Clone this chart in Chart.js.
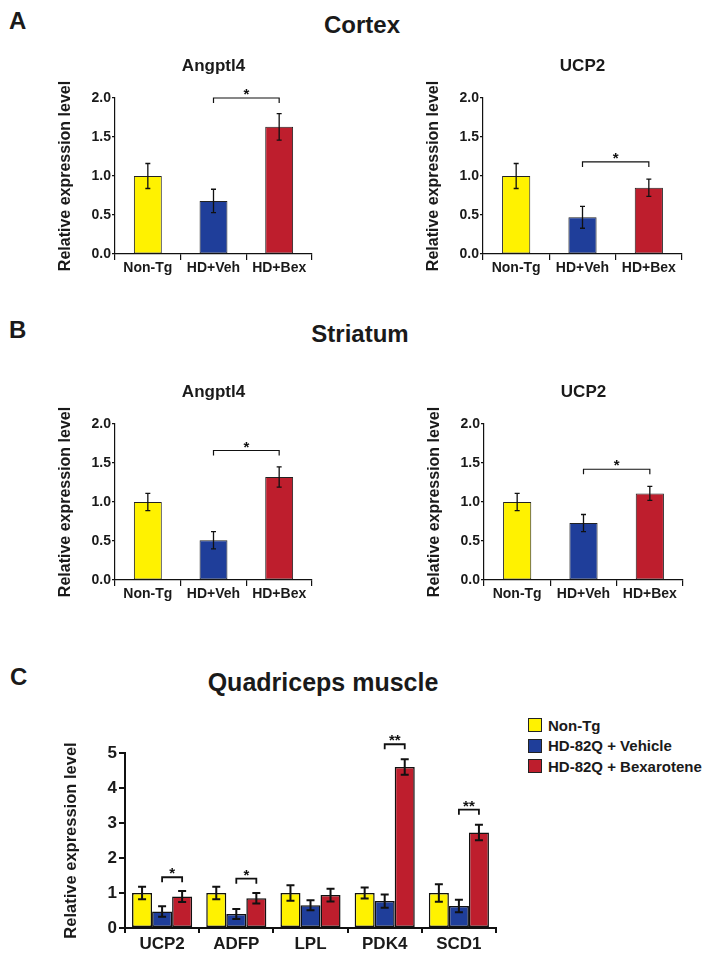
<!DOCTYPE html>
<html>
<head>
<meta charset="utf-8">
<script src="https://cdn.jsdelivr.net/npm/chart.js@4.4.1/dist/chart.umd.min.js"></script>
<style>
  body { margin: 0; background: #fff; width: 714px; height: 959px; position: relative; overflow: hidden;
         font-family: 'Liberation Sans', Arial, sans-serif; color: #1a1a1a; }
  .panel, .heading { position: absolute; font-weight: bold; line-height: 1; white-space: nowrap; }
  .panel { font-size: 24px; }
  .heading { font-size: 24px; transform: translateX(-50%); }
  canvas { position: absolute; }
  #legendC { position: absolute; left: 528px; top: 715px; margin: 0; padding: 0; list-style: none;
             font-weight: bold; font-size: 15px; }
  #legendC li { display: flex; align-items: center; height: 20.5px; white-space: nowrap; }
  #legendC .box { width: 12px; height: 12px; border: 1px solid #222; margin-right: 6px; }
</style>
</head>
<body>
<div class="panel" style="left:9px; top:9px">A</div>
<div class="heading" style="left:362px; top:13px">Cortex</div>
<div class="panel" style="left:9px; top:318px">B</div>
<div class="heading" style="left:360px; top:322px">Striatum</div>
<div class="panel" style="left:10px; top:665px">C</div>
<div class="heading" style="left:323px; top:670px; font-size:25px">Quadriceps muscle</div>

<canvas id="cortexAngptl4"></canvas>
<canvas id="cortexUCP2"></canvas>
<canvas id="striatumAngptl4"></canvas>
<canvas id="striatumUCP2"></canvas>
<canvas id="muscle"></canvas>
<ul id="legendC"></ul>

<script>
// ---- datos de los paneles A y B ----
const groups = ['Non-Tg', 'HD+Veh', 'HD+Bex'];
const groupColors = ['#FFF200', '#1F3E9A', '#BE1E2D'];
const smallTicks = [0, 0.5, 1.0, 1.5, 2.0];

const cortexAngptl4 = [1.0, 0.68, 1.63];
const cortexAngptl4Err = [0.16, 0.15, 0.17];
const cortexUCP2 = [1.0, 0.47, 0.85];
const cortexUCP2Err = [0.16, 0.14, 0.11];
const striatumAngptl4 = [1.0, 0.51, 1.32];
const striatumAngptl4Err = [0.11, 0.11, 0.13];
const striatumUCP2 = [1.0, 0.73, 1.11];
const striatumUCP2Err = [0.11, 0.11, 0.09];

// brackets: [from bar, to bar, level, mark]
const cortexAngptl4Sig = [[1, 2, 2.0, '*']];
const cortexUCP2Sig = [[1, 2, 1.18, '*']];
const striatumAngptl4Sig = [[1, 2, 1.66, '*']];
const striatumUCP2Sig = [[1, 2, 1.42, '*']];

// ---- datos del panel C ----
const genes = ['UCP2', 'ADFP', 'LPL', 'PDK4', 'SCD1'];
const seriesNames = ['Non-Tg', 'HD-82Q + Vehicle', 'HD-82Q + Bexarotene'];
const muscleNonTg = [1.0, 1.0, 1.0, 1.0, 1.0];
const muscleNonTgErr = [0.18, 0.18, 0.22, 0.16, 0.25];
const muscleVehicle = [0.47, 0.40, 0.65, 0.77, 0.63];
const muscleVehicleErr = [0.15, 0.14, 0.14, 0.19, 0.18];
const muscleBexarotene = [0.90, 0.85, 0.94, 4.60, 2.73];
const muscleBexaroteneErr = [0.16, 0.15, 0.18, 0.22, 0.22];
const muscleTicks = [0, 1, 2, 3, 4, 5];
// brackets Vehicle -> Bexarotene: [gene, level, mark]
const muscleSig = [[0, 1.45, '*'], [1, 1.41, '*'], [3, 5.25, '**'], [4, 3.38, '**']];

Chart.defaults.font.family = "'Liberation Sans', Arial, sans-serif";
Chart.defaults.color = '#1a1a1a';

// barras de error (media +/- error)
const errorBarPlugin = {
    id: 'errorBars',
    afterDatasetsDraw(chart, args, opts) {
        const ctx = chart.ctx;
        const yScale = chart.scales.y;
        ctx.save();
        ctx.strokeStyle = '#111';
        ctx.lineWidth = opts.lineWidth;
        chart.data.datasets.forEach((ds, i) => {
            chart.getDatasetMeta(i).data.forEach((bar, j) => {
                const top = yScale.getPixelForValue(ds.data[j] + ds.errors[j]);
                const bot = yScale.getPixelForValue(ds.data[j] - ds.errors[j]);
                ctx.beginPath();
                ctx.moveTo(bar.x, top); ctx.lineTo(bar.x, bot);
                ctx.moveTo(bar.x - opts.cap, top); ctx.lineTo(bar.x + opts.cap, top);
                ctx.moveTo(bar.x - opts.cap, bot); ctx.lineTo(bar.x + opts.cap, bot);
                ctx.stroke();
            });
        });
        ctx.restore();
    }
};

// corchetes de significancia con asteriscos
const bracketPlugin = {
    id: 'sigBrackets',
    afterDatasetsDraw(chart, args, opts) {
        const ctx = chart.ctx;
        const yScale = chart.scales.y;
        ctx.save();
        ctx.strokeStyle = '#111';
        ctx.fillStyle = '#111';
        ctx.lineWidth = opts.lineWidth;
        ctx.font = 'bold ' + opts.fontSize + 'px ' + Chart.defaults.font.family;
        ctx.textAlign = 'center';
        ctx.textBaseline = 'alphabetic';
        opts.items.forEach(b => {
            const x1 = chart.getDatasetMeta(b.a[0]).data[b.a[1]].x;
            const x2 = chart.getDatasetMeta(b.b[0]).data[b.b[1]].x;
            const y = yScale.getPixelForValue(b.level);
            ctx.beginPath();
            ctx.moveTo(x1, y + opts.leg); ctx.lineTo(x1, y);
            ctx.lineTo(x2, y); ctx.lineTo(x2, y + opts.leg);
            ctx.stroke();
            ctx.fillText(b.mark, (x1 + x2) / 2, y + opts.starShift);
        });
        ctx.restore();
    }
};

function place(id, left, top, w, h) {
    const c = document.getElementById(id);
    c.width = w; c.height = h;
    c.style.left = left + 'px'; c.style.top = top + 'px';
    c.style.width = w + 'px'; c.style.height = h + 'px';
    return c;
}

function axisStyle(width, tickLength) {
    return {
        grid: { display: true, drawOnChartArea: false, drawTicks: true, tickLength: tickLength, color: '#111', lineWidth: width },
        border: { display: true, color: '#111', width: width }
    };
}

function smallChart(id, box, title, values, errors, sig) {
    // box = eje y (x), valor maximo (top), eje x (bottom), final del eje (right)
    const canvas = place(id, box[0] - 85, box[1] - 58, box[3] - box[0] + 101, box[2] - box[1] + 84);
    return new Chart(canvas, {
        type: 'bar',
        data: {
            labels: groups,
            datasets: [{
                data: values,
                errors: errors,
                backgroundColor: groupColors,
                borderColor: '#222',
                borderWidth: 1,
                borderSkipped: false,
                categoryPercentage: 0.85,
                barPercentage: 0.5
            }]
        },
        options: {
            responsive: false,
            animation: false,
            events: [],
            layout: { padding: { left: 0, right: 16, top: 0, bottom: 0 } },
            plugins: {
                legend: { display: false },
                tooltip: { enabled: false },
                title: {
                    display: true, text: title, fullSize: false, color: '#1a1a1a',
                    font: { size: 17, weight: 'bold' },
                    padding: { top: 15.8, bottom: 21.8 }
                },
                errorBars: { lineWidth: 1.3, cap: 2.5 },
                sigBrackets: {
                    items: sig.map(s => ({ a: [0, s[0]], b: [0, s[1]], level: s[2], mark: s[3] })),
                    lineWidth: 1.2, leg: 5, fontSize: 15, starShift: 1
                }
            },
            scales: {
                x: Object.assign(axisStyle(1.2, 6), {
                    ticks: { font: { size: 14, weight: 'bold' }, color: '#1a1a1a', padding: 0, maxRotation: 0 },
                    afterFit: s => { s.height = 26; }
                }),
                y: Object.assign(axisStyle(1.2, 3), {
                    min: 0, max: 2,
                    afterBuildTicks: s => { s.ticks = smallTicks.map(v => ({ value: v })); },
                    ticks: { font: { size: 14, weight: 'bold' }, color: '#1a1a1a', padding: 1, callback: v => v.toFixed(1) },
                    title: {
                        display: true, text: 'Relative expression level', color: '#1a1a1a',
                        font: { size: 16, weight: 'bold' }, padding: { top: 25.9, bottom: 0 }
                    },
                    afterFit: s => { s.width = 85; }
                })
            }
        },
        plugins: [errorBarPlugin, bracketPlugin]
    });
}

smallChart('cortexAngptl4', [115, 98, 254, 312], 'Angptl4', cortexAngptl4, cortexAngptl4Err, cortexAngptl4Sig);
smallChart('cortexUCP2', [483, 98, 254, 682], 'UCP2', cortexUCP2, cortexUCP2Err, cortexUCP2Sig);
smallChart('striatumAngptl4', [115, 424, 580, 312], 'Angptl4', striatumAngptl4, striatumAngptl4Err, striatumAngptl4Sig);
smallChart('striatumUCP2', [484, 424, 580, 683], 'UCP2', striatumUCP2, striatumUCP2Err, striatumUCP2Sig);

// ---- panel C: musculo cuadriceps ----
const muscleCanvas = place('muscle', 30, 713, 480, 245);
const muscleSeries = [
    [muscleNonTg, muscleNonTgErr],
    [muscleVehicle, muscleVehicleErr],
    [muscleBexarotene, muscleBexaroteneErr]
];
const muscleChart = new Chart(muscleCanvas, {
    type: 'bar',
    data: {
        labels: genes,
        datasets: muscleSeries.map((s, i) => ({
            label: seriesNames[i],
            data: s[0],
            errors: s[1],
            backgroundColor: groupColors[i],
            borderColor: '#111',
            borderWidth: 1.5,
            borderSkipped: false,
            categoryPercentage: 0.81,
            barPercentage: 1.0
        }))
    },
    options: {
        responsive: false,
        animation: false,
        events: [],
        layout: { padding: { left: 0, right: 14, top: 40, bottom: 0 } },
        plugins: {
            legend: { display: false },
            tooltip: { enabled: false },
            errorBars: { lineWidth: 2, cap: 4 },
            sigBrackets: {
                items: muscleSig.map(s => ({ a: [1, s[0]], b: [2, s[0]], level: s[1], mark: s[2] })),
                lineWidth: 1.8, leg: 5, fontSize: 15, starShift: 1
            }
        },
        scales: {
            x: Object.assign(axisStyle(2, 5), {
                ticks: { font: { size: 17, weight: 'bold' }, color: '#1a1a1a', padding: 1, maxRotation: 0 },
                afterFit: s => { s.height = 30; }
            }),
            y: Object.assign(axisStyle(2, 6), {
                min: 0, max: 5,
                afterBuildTicks: s => { s.ticks = muscleTicks.map(v => ({ value: v })); },
                ticks: { font: { size: 17, weight: 'bold' }, color: '#1a1a1a', padding: 2 },
                title: {
                    display: true, text: 'Relative expression level', color: '#1a1a1a',
                    font: { size: 16.5, weight: 'bold' }, padding: { top: 31.6, bottom: 0 }
                },
                afterFit: s => { s.width = 95; }
            })
        }
    },
    plugins: [errorBarPlugin, bracketPlugin]
});

// leyenda HTML generada desde el grafico
const legendList = document.getElementById('legendC');
muscleChart.options.plugins.legend.labels.generateLabels(muscleChart).forEach(item => {
    const li = document.createElement('li');
    const box = document.createElement('span');
    box.className = 'box';
    box.style.background = item.fillStyle;
    li.appendChild(box);
    li.appendChild(document.createTextNode(item.text));
    legendList.appendChild(li);
});
</script>
</body>
</html>
